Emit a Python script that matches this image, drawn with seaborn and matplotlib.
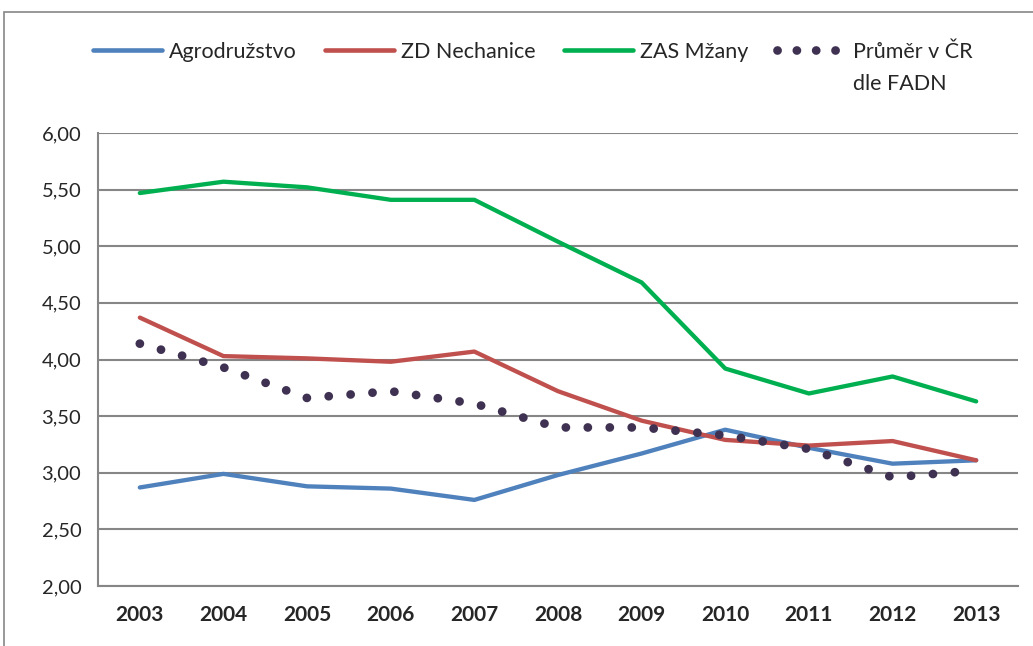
import matplotlib
matplotlib.use("Agg")
import matplotlib.pyplot as plt
import matplotlib.ticker as mticker
from matplotlib.patches import Rectangle
from matplotlib.lines import Line2D
import pandas as pd
import seaborn as sns

years = [2003, 2004, 2005, 2006, 2007, 2008, 2009, 2010, 2011, 2012, 2013]
agrodruzstvo = [2.87, 2.99, 2.88, 2.86, 2.76, 2.98, 3.17, 3.38, 3.22, 3.08, 3.11]
zd_nechanice = [4.37, 4.03, 4.01, 3.98, 4.07, 3.72, 3.46, 3.29, 3.24, 3.28, 3.11]
zas_mzany = [5.47, 5.57, 5.52, 5.41, 5.41, 5.04, 4.68, 3.92, 3.70, 3.85, 3.63]
prumer_fadn = [4.14, 3.93, 3.66, 3.72, 3.61, 3.40, 3.40, 3.33, 3.21, 2.96, 3.02]

names = ["Agrodružstvo", "ZD Nechanice", "ZAS Mžany", "Průměr v ČR"]
colors = ["#4F81BD", "#C0504D", "#00B050", "#3F3151"]

df = pd.DataFrame({
    "rok": years * 4,
    "hodnota": agrodruzstvo + zd_nechanice + zas_mzany + prumer_fadn,
    "serie": [n for n in names for _ in years],
})

sns.set_style("white")
plt.rcParams["font.family"] = ["Lato", "DejaVu Sans"]

fig = plt.figure(figsize=(10.33, 6.46), dpi=100)
ax = fig.add_axes([98 / 1033, 1 - 586 / 646, 920 / 1033, 453 / 646])

for name, col in zip(names, colors):
    sub = df[df["serie"] == name]
    sns.lineplot(data=sub, x="rok", y="hodnota", color=col, ax=ax, legend=False,
                 linewidth=3.1, solid_capstyle="round")

# prumer FADN - round dots
dot_line = ax.lines[3]
dot_line.set_linewidth(6.3)
dot_line.set_linestyle((0, (0.01, 2.5)))
dot_line.set_dash_capstyle("round")

ax.set_xlim(2002.5, 2013.5)
ax.set_ylim(2, 6)
ax.set_xlabel("")
ax.set_ylabel("")
ax.yaxis.set_major_locator(mticker.MultipleLocator(0.5))
ax.yaxis.set_major_formatter(mticker.FuncFormatter(lambda v, p: f"{v:.2f}".replace(".", ",")))
ax.set_xticks(years)
ax.set_xticklabels([str(y) for y in years], fontweight="bold")
ax.set_xticks([y + 0.5 for y in [2002] + years], minor=True)
ax.tick_params(axis="x", which="major", length=0, pad=14, labelsize=15)
ax.tick_params(axis="x", which="minor", length=7, width=1.5, color="#868686", direction="out")
ax.tick_params(axis="y", length=6, width=1.5, color="#868686", direction="out", labelsize=14.5, pad=6)
ax.grid(axis="y", color="#868686", linewidth=1.5)
ax.set_axisbelow(True)
for side in ["top", "right"]:
    ax.spines[side].set_visible(False)
for side in ["left", "bottom"]:
    ax.spines[side].set_color("#868686")
    ax.spines[side].set_linewidth(1.5)

handles = [Line2D([], [], color=c, linewidth=3.3, solid_capstyle="round") for c in colors[:3]]
handles.append(Line2D([], [], color=colors[3], linewidth=6.3, linestyle=(0, (0.01, 2.2)),
                      dash_capstyle="round"))
leg = fig.legend(handles, names, loc="upper left", bbox_to_anchor=(84 / 1033, 1 - 33 / 646),
                 ncol=4, frameon=False, fontsize=15.5, handlelength=3.2, handletextpad=0.35,
                 columnspacing=1.3, borderaxespad=0)

fig.canvas.draw()
bb = leg.get_texts()[3].get_window_extent().transformed(fig.transFigure.inverted())
fig.text(bb.x0, (bb.y0 + bb.y1) / 2 - 32 / 646, "dle FADN", fontsize=15.5, va="center", ha="left")

fig.patches.append(Rectangle((4 / 1033, -0.05), 1.2, 1 - 12 / 646 + 0.05,
                             transform=fig.transFigure, fill=False,
                             edgecolor="#868686", linewidth=1.2))

fig.savefig("out.png", dpi=100)
